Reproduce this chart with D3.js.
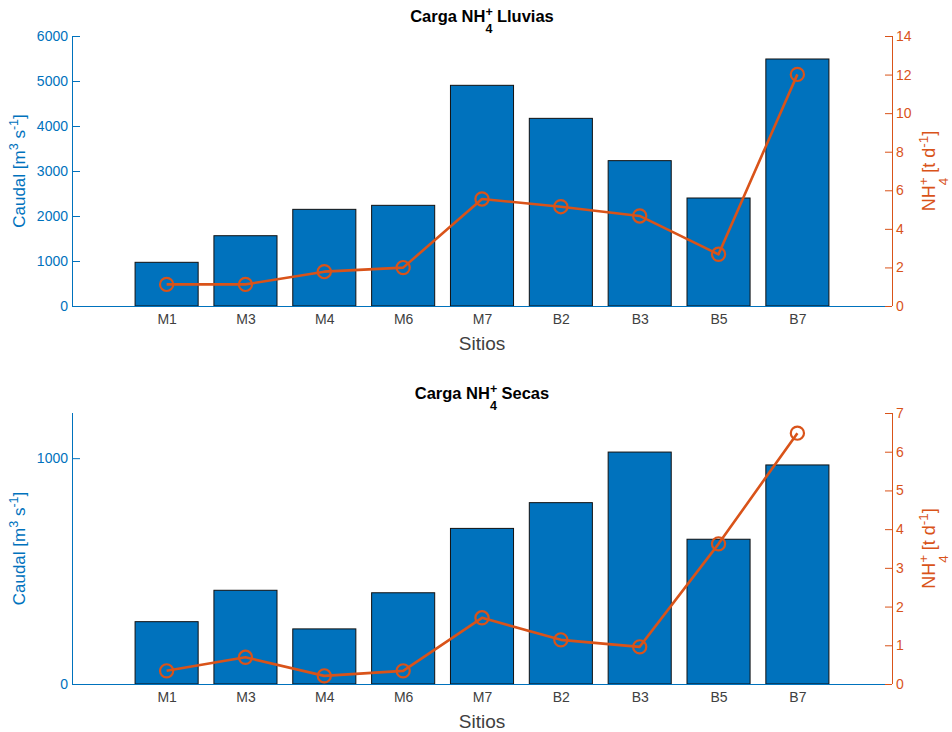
<!DOCTYPE html>
<html><head><meta charset="utf-8">
<script src="https://cdn.jsdelivr.net/npm/d3@7"></script>
<style>body{margin:0;background:#fff}svg{display:block}text{font-family:"Liberation Sans",Arial,Helvetica,sans-serif}</style>
</head><body><svg id="c" width="952" height="732"></svg>
<script>
const sitios = ["M1","M3","M4","M6","M7","B2","B3","B5","B7"];
const caudalLluvias = [971,1562,2148,2237,4904,4170,3230,2400,5489];
const nh4Lluvias = [1.12,1.12,1.78,1.99,5.55,5.15,4.67,2.68,12.01];
const caudalSecas = [276,415,244,404,689,803,1027,641,970];
const nh4Secas = [0.34,0.69,0.21,0.34,1.71,1.14,0.96,3.62,6.48];
const ticksCaudalLluvias = [0,1000,2000,3000,4000,5000,6000];
const ticksNH4Lluvias = [0,2,4,6,8,10,12,14];
const ticksCaudalSecas = [0,1000];
const ticksNH4Secas = [0,1,2,3,4,5,6,7];

const BLUE="#0072BD", ORANGE="#D95319", GRAY="#404040";
const svg=d3.select("#c");
const L=72,R=892;
const x=d3.scaleLinear().domain([-0.2,10.2]).range([L,R]);

function richText(t, parts){
  let pending=0;
  parts.forEach(p=>{
    if(typeof p==="string"){ t.append("tspan").attr("dy",pending||null).text(p); pending=0; }
    else if(p.stack){
      const sz=p.size;
      t.append("tspan").attr("font-size",sz).attr("dy",pending-p.up).text(p.stack[0]);
      t.append("tspan").attr("font-size",sz).attr("dx",(-0.584*sz).toFixed(2)).attr("dy",p.up+p.down).text(p.stack[1]);
      pending=-p.down;
    } else if(p.sup){
      t.append("tspan").attr("font-size",p.size).attr("dy",pending-p.up).text(p.sup);
      pending=p.up;
    }
  });
}

function panel(cfg){
  const {top,bottom,cDom,nDom,cTicks,nTicks,caudal,nh4,title}=cfg;
  const yL=d3.scaleLinear().domain(cDom).range([bottom,top]);
  const yR=d3.scaleLinear().domain(nDom).range([bottom,top]);
  const g=svg.append("g");
  g.selectAll("rect.bar").data(caudal).join("rect")
    .attr("x",(d,i)=>x(i+1-0.4)).attr("width",(d,i)=>x(i+1.4)-x(i+0.6))
    .attr("y",d=>yL(d)).attr("height",d=>yL(0)-yL(d))
    .attr("fill",BLUE).attr("stroke","#111").attr("stroke-width",1);
  const line=d3.line().x((d,i)=>x(i+1)).y(d=>yR(d));
  g.append("path").datum(nh4).attr("d",line).attr("fill","none")
    .attr("stroke",ORANGE).attr("stroke-width",2.6).attr("stroke-linejoin","round");
  g.selectAll("circle.m").data(nh4).join("circle")
    .attr("cx",(d,i)=>x(i+1)).attr("cy",d=>yR(d)).attr("r",6.6)
    .attr("fill","none").attr("stroke",ORANGE).attr("stroke-width",2.2);
  g.append("line").attr("x1",L).attr("x2",R).attr("y1",bottom+0.5).attr("y2",bottom+0.5).attr("stroke",BLUE).attr("stroke-width",1);
  const la=g.append("g").attr("transform",`translate(${L},0)`)
    .call(d3.axisLeft(yL).tickValues(cTicks).tickSize(-8).tickPadding(4).tickFormat(d3.format("d")));
  la.select(".domain").attr("d",`M0.5,${top}V${bottom}`).attr("stroke",BLUE);
  la.selectAll(".tick line").attr("stroke",BLUE);
  la.selectAll(".tick text").attr("fill",BLUE).attr("font-size",14).attr("x",-4).attr("font-family",null);
  const ra=g.append("g").attr("transform",`translate(${R},0)`)
    .call(d3.axisRight(yR).tickValues(nTicks).tickSize(-7).tickPadding(4).tickFormat(d3.format("~g")));
  ra.select(".domain").attr("d",`M0.5,${top}V${bottom}`).attr("stroke",ORANGE);
  ra.selectAll(".tick line").attr("stroke",ORANGE);
  ra.selectAll(".tick text").attr("fill",ORANGE).attr("font-size",14).attr("x",4).attr("font-family",null);
  const xa=g.append("g").attr("transform",`translate(0,${bottom})`)
    .call(d3.axisBottom(x).tickValues(sitios.map((s,i)=>i+1)).tickSize(0).tickPadding(8).tickFormat(d=>sitios[d-1]));
  xa.select(".domain").remove();
  xa.selectAll(".tick text").attr("fill",GRAY).attr("font-size",14).attr("font-family",null).attr("dy","0.71em");
  g.append("text").attr("x",(L+R)/2).attr("y",bottom+44).attr("text-anchor","middle")
    .attr("fill",GRAY).attr("font-size",19).text("Sitios");
  const t=g.append("text").attr("x",(L+R)/2).attr("y",top-14).attr("text-anchor","middle")
    .attr("font-weight","bold").attr("font-size",16.5).attr("fill","#000");
  richText(t,["Carga NH",{stack:["+","4"],size:12.5,up:6,down:11}," "+title]);
  const midY=(top+bottom)/2;
  const ll=g.append("text").attr("transform",`translate(25,${midY}) rotate(-90)`).attr("text-anchor","middle")
    .attr("fill",BLUE).attr("font-size",17);
  richText(ll,["Caudal [m",{sup:"3",size:12.5,up:7}," s",{sup:"-1",size:12.5,up:7},"]"]);
  const rl=g.append("text").attr("transform",`translate(935,${midY}) rotate(-90)`).attr("text-anchor","middle")
    .attr("fill",ORANGE).attr("font-size",18);
  richText(rl,["NH",{stack:["+","4"],size:13.5,up:7,down:13}," [t d",{sup:"-1",size:13.5,up:7},"]"]);
}

panel({top:36,bottom:306,cDom:[0,6000],nDom:[0,14],cTicks:ticksCaudalLluvias,nTicks:ticksNH4Lluvias,caudal:caudalLluvias,nh4:nh4Lluvias,title:"Lluvias"});
panel({top:413,bottom:684,cDom:[0,1200],nDom:[0,7],cTicks:ticksCaudalSecas,nTicks:ticksNH4Secas,caudal:caudalSecas,nh4:nh4Secas,title:"Secas"});
</script></body></html>
